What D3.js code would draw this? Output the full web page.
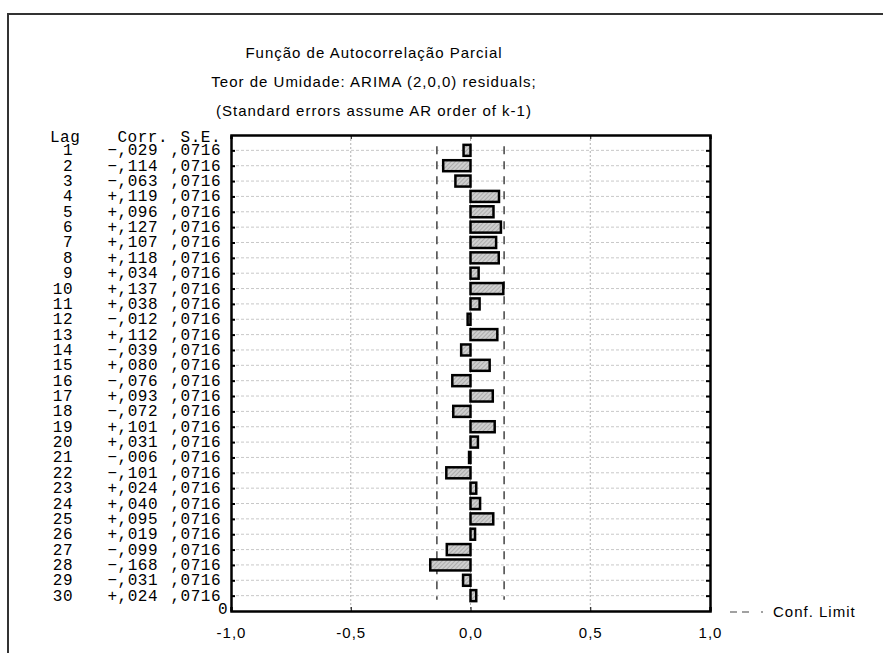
<!DOCTYPE html>
<meta charset="utf-8">
<script src="https://d3js.org/d3.v7.min.js"></script>
<style>
  body { margin: 0; background: #fff; }
  text { font-family: "Liberation Sans", Arial, sans-serif; fill: #000; }
  .mono { font-family: "Liberation Mono", "Courier New", monospace; font-size: 16px; letter-spacing: 0.5px; }
  .sans { font-size: 15px; letter-spacing: 1px; }
</style>
<body>
<div id="my_dataviz"></div>
<script>

// chart data
var lags = d3.range(1, 31);
var corr = [-0.029, -0.114, -0.063, 0.119, 0.096, 0.127, 0.107, 0.118, 0.034, 0.137,
            0.038, -0.012, 0.112, -0.039, 0.080, -0.076, 0.093, -0.072, 0.101, 0.031,
            -0.006, -0.101, 0.024, 0.040, 0.095, 0.019, -0.099, -0.168, -0.031, 0.024];
var se = [0.0716, 0.0716, 0.0716, 0.0716, 0.0716, 0.0716, 0.0716, 0.0716, 0.0716, 0.0716,
          0.0716, 0.0716, 0.0716, 0.0716, 0.0716, 0.0716, 0.0716, 0.0716, 0.0716, 0.0716,
          0.0716, 0.0716, 0.0716, 0.0716, 0.0716, 0.0716, 0.0716, 0.0716, 0.0716, 0.0716];
var xTicks = [-1, -0.5, 0, 0.5, 1];
var titles = ["Função de Autocorrelação Parcial",
              "Teor de Umidade: ARIMA (2,0,0) residuals;",
              "(Standard errors assume AR order of k-1)"];

var W = 883, H = 653;
var margin = {top: 135, left: 231, right: 173, bottom: 42};
var width = W - margin.left - margin.right,
    height = H - margin.top - margin.bottom;

var svg = d3.select("#my_dataviz").append("svg")
    .attr("width", W).attr("height", H);

// hatch pattern for the bars
var pat = svg.append("defs").append("pattern")
    .attr("id", "hatch").attr("patternUnits", "userSpaceOnUse")
    .attr("width", 3).attr("height", 3)
    .attr("patternTransform", "rotate(45)");
pat.append("rect").attr("width", 3).attr("height", 3).attr("fill", "#cfcfcf");
pat.append("line").attr("x1", 0).attr("y1", 0).attr("x2", 0).attr("y2", 3)
    .attr("stroke", "#8a8a8a").attr("stroke-width", 1);

// outer frame
svg.append("path").attr("d", "M8,653 V14 H883")
    .attr("fill", "none").attr("stroke", "#333").attr("stroke-width", 2);

// titles
svg.selectAll(".title").data(titles).enter().append("text")
    .attr("class", "sans")
    .attr("x", 374).attr("y", function(d, i) { return 58 + i * 29; })
    .attr("text-anchor", "middle")
    .text(function(d) { return d; });

var g = svg.append("g").attr("transform", "translate(" + margin.left + "," + margin.top + ")");

var x = d3.scaleLinear().domain([-1, 1]).range([0, width]);
var y = d3.scaleLinear().domain([0, 31]).range([0, height]);

// grid
g.selectAll(".hgrid").data(lags).enter().append("line")
    .attr("x1", 0).attr("x2", width)
    .attr("y1", function(d) { return y(d); }).attr("y2", function(d) { return y(d); })
    .attr("stroke", "#c8c8c8").attr("stroke-dasharray", "3,2");
g.selectAll(".vgrid").data([-0.5, 0, 0.5]).enter().append("line")
    .attr("x1", function(d) { return x(d); }).attr("x2", function(d) { return x(d); })
    .attr("y1", 0).attr("y2", height)
    .attr("stroke", "#b0b0b0").attr("stroke-dasharray", "2,2");

// confidence limits
var lim = 1.96 * se[0];
g.selectAll(".conf").data([-lim, lim]).enter().append("line")
    .attr("x1", function(d) { return x(d); }).attr("x2", function(d) { return x(d); })
    .attr("y1", y(1) - 4).attr("y2", y(30) + 4)
    .attr("stroke", "#444").attr("stroke-width", 1.5).attr("stroke-dasharray", "8,7");

// bars
var bh = 11;
g.selectAll(".bar").data(lags).enter().append("rect")
    .attr("x", function(d, i) { return x(Math.min(0, corr[i])); })
    .attr("y", function(d) { return y(d) - bh / 2; })
    .attr("width", function(d, i) { return Math.abs(x(corr[i]) - x(0)); })
    .attr("height", bh)
    .attr("fill", "url(#hatch)").attr("stroke", "#000").attr("stroke-width", 2.5);

// axes
var fmt = function(d) { return (d < 0 ? "-" : "") + Math.abs(d).toFixed(1).replace(".", ","); };
var bx = g.append("g").attr("transform", "translate(0," + height + ")")
    .call(d3.axisBottom(x).tickValues(xTicks).tickSize(-4).tickFormat(fmt).tickPadding(16));
bx.select(".domain").attr("stroke-width", 2.5);
bx.selectAll("text").attr("class", "sans").attr("font-size", null).attr("font-family", null)
    .style("font-size", "15px").style("letter-spacing", "1px");
bx.attr("font-size", null).attr("font-family", null);

g.append("g")
    .call(d3.axisTop(x).tickValues(xTicks).tickSize(-4).tickFormat(""))
    .call(function(a) { a.select(".domain").attr("stroke-width", 2.5); });
g.append("g")
    .call(d3.axisLeft(y).tickValues(lags).tickSize(-4).tickFormat("").tickSizeOuter(0))
    .call(function(a) { a.select(".domain").attr("stroke-width", 2.5); a.selectAll("line").attr("stroke-width", 2); });
g.append("g").attr("transform", "translate(" + width + ",0)")
    .call(d3.axisRight(y).tickValues(lags).tickSize(-4).tickFormat("").tickSizeOuter(0))
    .call(function(a) { a.select(".domain").attr("stroke-width", 2.5); a.selectAll("line").attr("stroke-width", 2); });

// "0" at bottom of the lag axis
g.append("text").attr("class", "mono").attr("x", -13).attr("y", height + 3)
    .text("0");

// table on the left
var sg = function(v) { return (v < 0 ? "\u2212" : "+") + Math.abs(v).toFixed(3).replace("0.", ","); };
svg.append("text").attr("class", "mono").attr("x", 50).attr("y", margin.top + 7).text("Lag");
svg.append("text").attr("class", "mono").attr("x", 168).attr("y", margin.top + 7).attr("text-anchor", "end").text("Corr.");
svg.append("text").attr("class", "mono").attr("x", 221).attr("y", margin.top + 7).attr("text-anchor", "end").text("S.E.");

var rows = svg.selectAll(".row").data(lags).enter().append("g")
    .attr("transform", function(d) { return "translate(0," + (margin.top + y(d) + 5) + ")"; });
rows.append("text").attr("class", "mono").attr("x", 73).attr("text-anchor", "end")
    .text(function(d) { return d; });
rows.append("text").attr("class", "mono").attr("x", 158).attr("text-anchor", "end")
    .text(function(d, i) { return sg(corr[i]); });
rows.append("text").attr("class", "mono").attr("x", 221).attr("text-anchor", "end")
    .text(function(d, i) { return se[i].toFixed(4).replace("0.", ","); });

// legend
var lx = 730, ly = 612;
svg.append("line").attr("x1", lx).attr("x2", lx + 33).attr("y1", ly).attr("y2", ly)
    .attr("stroke", "#444").attr("stroke-width", 1.2).attr("stroke-dasharray", "7,5,7,12,2,0");
svg.append("text").attr("class", "sans").attr("x", 773).attr("y", ly + 5).text("Conf. Limit");

</script>
</body>
